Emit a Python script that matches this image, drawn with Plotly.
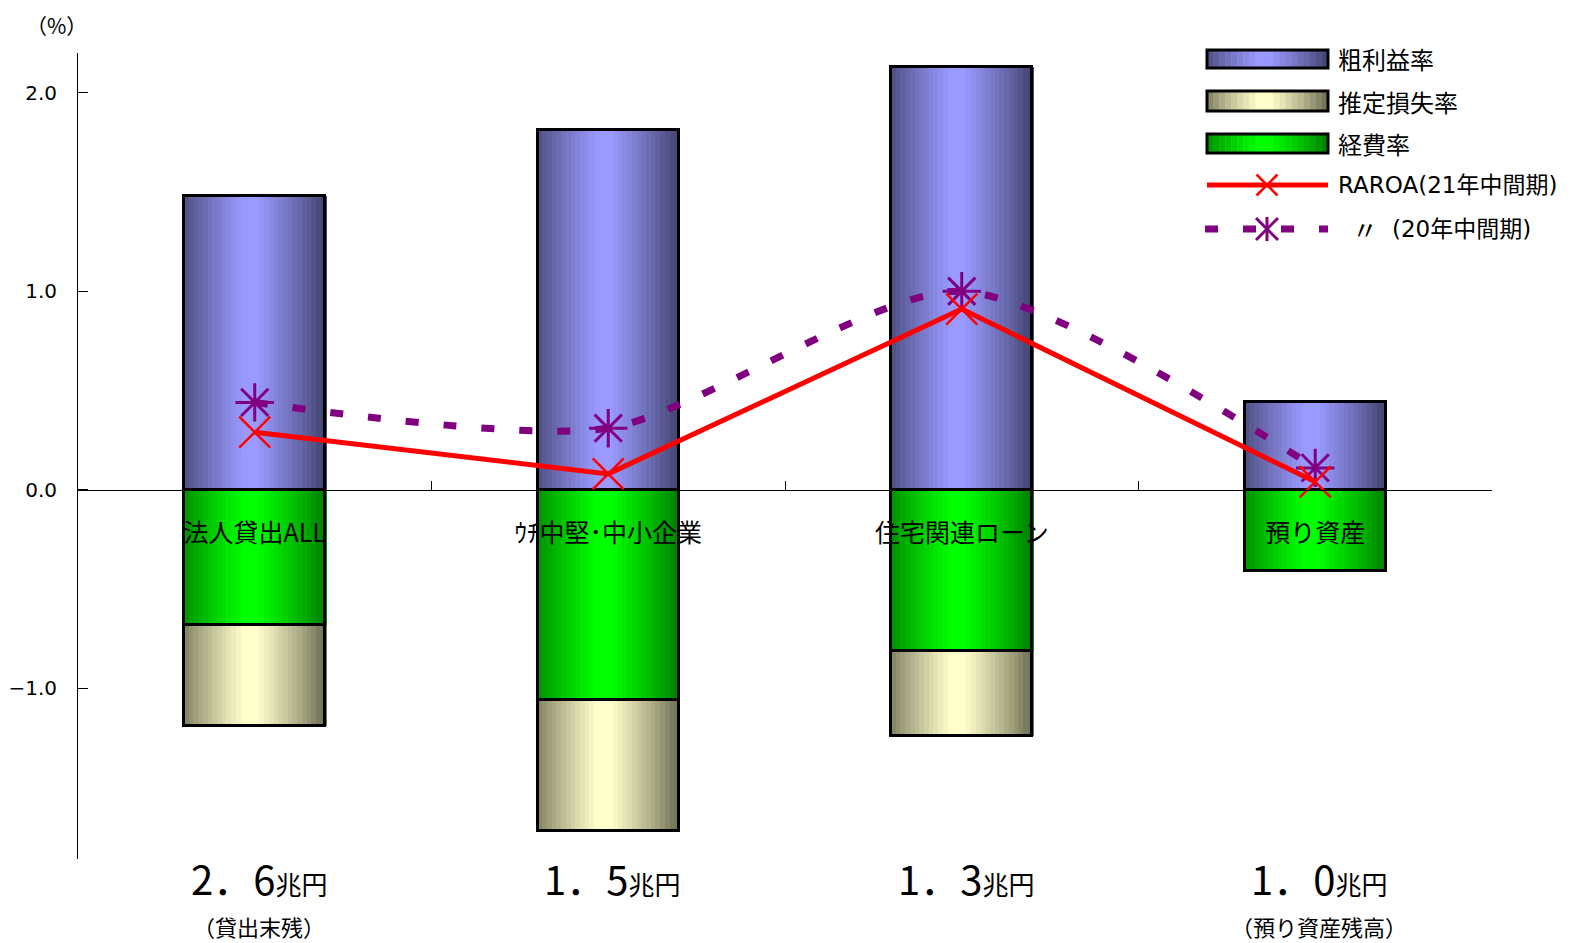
import numpy as np
import plotly.graph_objects as go

FONT = "DejaVu Sans, Noto Sans CJK JP"
CJK = "Noto Sans CJK JP"

# ---- data ----
kategorien = ["法人貸出ALL", "ｳﾁ中堅･中小企業", "住宅関連ローン", "預り資産"]
sosori = [1.48, 1.81, 2.13, 0.44]          # 粗利益率
keihi = [0.68, 1.06, 0.81, 0.41]           # 経費率
sonshitsu = [0.51, 0.66, 0.43, 0.0]        # 推定損失率
raroa_21 = [0.29, 0.08, 0.91, 0.04]        # RAROA(21年中間期)
raroa_20 = [0.44, 0.31, 1.00, 0.11]        # 〃 (20年中間期)
zandaka = ["2．6", "1．5", "1．3", "1．0"]   # 兆円
zandaka_note = ["（貸出末残）", "", "", "（預り資産残高）"]

Y_MIN, Y_MAX = -1.86, 2.2
W, H = 1581, 943
OFF = 8  # body margin of the html page
PL, PR, PT, PB = 78, 1492, 53, 859

BAR_W = 0.4
N_STRIP = 30


def px(x):
    return (x - PL) / (PR - PL)


def py(y):
    return (PB - y) / (PB - PT)


def verlauf(dunkel, hell, t):
    b = np.clip(1 - (np.abs(t - 0.47) - 0.05) / 0.44, 0, 1)
    b = b ** 0.85
    c = [int(round(d + (h - d) * b)) for d, h in zip(dunkel, hell)]
    return "rgb(%d,%d,%d)" % tuple(c)


FARBEN = {
    "sosori": ((72, 72, 118), (153, 153, 255)),
    "sonshitsu": ((118, 118, 90), (255, 255, 204)),
    "keihi": ((0, 135, 0), (0, 255, 0)),
}

fig = go.Figure()

neg_keihi = [-v for v in keihi]
neg_sonshitsu = [-v for v in sonshitsu]

serien = [
    ("sosori", sosori, [0] * 4),
    ("keihi", neg_keihi, [0] * 4),
    ("sonshitsu", neg_sonshitsu, neg_keihi),
]

sw = BAR_W / N_STRIP
for key, werte, basis in serien:
    dunkel, hell = FARBEN[key]
    for i in range(N_STRIP):
        t = (i + 0.5) / N_STRIP
        fig.add_trace(go.Bar(
            x=kategorien, y=werte, base=basis,
            width=sw * 1.25, offset=-BAR_W / 2 + i * sw,
            marker=dict(color=verlauf(dunkel, hell, t), line=dict(width=0)),
            showlegend=False, hoverinfo="skip"))

for key, werte, basis in serien:
    fig.add_trace(go.Bar(
        x=kategorien, y=werte, base=basis,
        width=BAR_W, offset=-BAR_W / 2,
        marker=dict(color="rgba(0,0,0,0)", line=dict(color="black", width=3)),
        showlegend=False, hoverinfo="skip"))

fig.add_trace(go.Scatter(
    x=kategorien, y=raroa_20, mode="lines+markers",
    line=dict(color="#800080", width=7, dash="13px,25px", shape="spline", smoothing=0.7),
    marker=dict(symbol="asterisk", size=32, color="#800080", line=dict(color="#800080", width=3)),
    showlegend=False, cliponaxis=False))

fig.add_trace(go.Scatter(
    x=kategorien, y=raroa_21, mode="lines+markers",
    line=dict(color="#ff0000", width=5),
    marker=dict(symbol="x-thin", size=31, color="#ff0000", line=dict(color="#ff0000", width=2.5)),
    showlegend=False, cliponaxis=False))

# ---- legend (drawn by hand) ----
shapes = []
annotations = []
LX0, LX1 = 1207, 1328
legende_balken = [("sosori", "粗利益率", 50, 68),
                  ("sonshitsu", "推定損失率", 91, 111),
                  ("keihi", "経費率", 134, 153)]
for key, text, y0, y1 in legende_balken:
    dunkel, hell = FARBEN[key]
    n = 20
    for i in range(n):
        xa = LX0 + (LX1 - LX0) * i / n
        xb = LX0 + (LX1 - LX0) * (i + 1) / n
        shapes.append(dict(type="rect", xref="paper", yref="paper",
                           x0=px(xa), x1=px(xb + 0.5), y0=py(y1), y1=py(y0),
                           fillcolor=verlauf(dunkel, hell, (i + 0.5) / n), line=dict(width=0)))
    shapes.append(dict(type="rect", xref="paper", yref="paper",
                       x0=px(LX0), x1=px(LX1), y0=py(y1), y1=py(y0),
                       line=dict(color="black", width=3)))
    annotations.append(dict(text=text, xref="paper", yref="paper", x=px(1336), y=py((y0 + y1) / 2),
                            xanchor="left", yanchor="middle", showarrow=False,
                            font=dict(family=CJK, size=24, color="black")))

# red line + X
ry = 185
shapes.append(dict(type="line", xref="paper", yref="paper", x0=px(LX0), x1=px(LX1),
                   y0=py(ry), y1=py(ry), line=dict(color="#ff0000", width=5)))
mx, r = 1267, 10.5
for dx, dy in [(1, 1), (1, -1)]:
    shapes.append(dict(type="line", xref="paper", yref="paper",
                       x0=px(mx - r * dx), x1=px(mx + r * dx), y0=py(ry - r * dy), y1=py(ry + r * dy),
                       line=dict(color="#ff0000", width=2.5)))
annotations.append(dict(text="RAROA(21年中間期)", xref="paper", yref="paper", x=px(1336), y=py(ry),
                        xanchor="left", yanchor="middle", showarrow=False,
                        font=dict(family=FONT, size=23, color="black")))

# purple dashed + asterisk
pyy = 229
shapes.append(dict(type="line", xref="paper", yref="paper", x0=px(LX0 - 2), x1=px(LX1),
                   y0=py(pyy), y1=py(pyy), line=dict(color="#800080", width=7, dash="13px,25px")))
mx, r = 1267, 11
for x0, y0, x1, y1 in [(-r, -r, r, r), (-r, r, r, -r), (0, -r * 1.1, 0, r * 1.1)]:
    shapes.append(dict(type="line", xref="paper", yref="paper",
                       x0=px(mx + x0), x1=px(mx + x1), y0=py(pyy + y0), y1=py(pyy + y1),
                       line=dict(color="#800080", width=3)))
annotations.append(dict(text="〃", xref="paper", yref="paper", x=px(1350), y=py(pyy),
                        xanchor="left", yanchor="middle", showarrow=False,
                        font=dict(family=CJK, size=26, color="black")))
annotations.append(dict(text="(20年中間期)", xref="paper", yref="paper", x=px(1390), y=py(pyy),
                        xanchor="left", yanchor="middle", showarrow=False,
                        font=dict(family=FONT, size=23, color="black")))

# ---- other texts ----
annotations.append(dict(text="（%）", xref="paper", yref="paper", x=px(56), y=py(25),
                        xanchor="center", yanchor="middle", showarrow=False,
                        font=dict(family=CJK, size=21, color="black")))
annotations.append(dict(text="−2.0", xref="paper", yref="y", x=0, y=-2.0, xanchor="right",
                        yanchor="middle", xshift=-19, showarrow=False,
                        font=dict(family="DejaVu Sans", size=20, color="black")))
for k, z, note in zip(kategorien, zandaka, zandaka_note):
    annotations.append(dict(text=z + "<span style='font-size:26px'>兆円</span>", xref="x", yref="paper",
                            x=k, y=py(878), xanchor="center", yanchor="middle", showarrow=False, xshift=4,
                            font=dict(family=CJK, size=40, color="black")))
    if note:
        annotations.append(dict(text=note, xref="x", yref="paper", x=k, y=py(926),
                                xanchor="center", yanchor="middle", showarrow=False, xshift=4,
                                font=dict(family=CJK, size=22, color="black")))

fig.update_layout(
    width=W - OFF, height=H - OFF,
    margin=dict(l=PL - OFF, r=W - PR, t=PT - OFF, b=H - PB),
    paper_bgcolor="white", plot_bgcolor="white",
    barmode="overlay", bargap=0,
    showlegend=False,
    shapes=shapes, annotations=annotations,
    font=dict(family=FONT, color="black"),
    xaxis=dict(type="category", anchor="free", position=-Y_MIN / (Y_MAX - Y_MIN),
               showline=True, linecolor="black", linewidth=1, automargin=False,
               ticks="inside", tickson="boundaries", ticklen=9, tickcolor="black",
               showgrid=False, zeroline=False, ticklabelstandoff=21,
               tickfont=dict(family=CJK, size=25, color="black")),
    yaxis=dict(range=[Y_MIN, Y_MAX], tickvals=[-1, 0, 1, 2], tickformat=".1f",
               showline=True, linecolor="black", linewidth=1, automargin=False,
               ticks="inside", ticklen=10, tickcolor="black",
               showgrid=False, zeroline=False, ticklabelstandoff=16,
               tickfont=dict(family="DejaVu Sans", size=20, color="black")),
)

fig.write_html("out.html")
